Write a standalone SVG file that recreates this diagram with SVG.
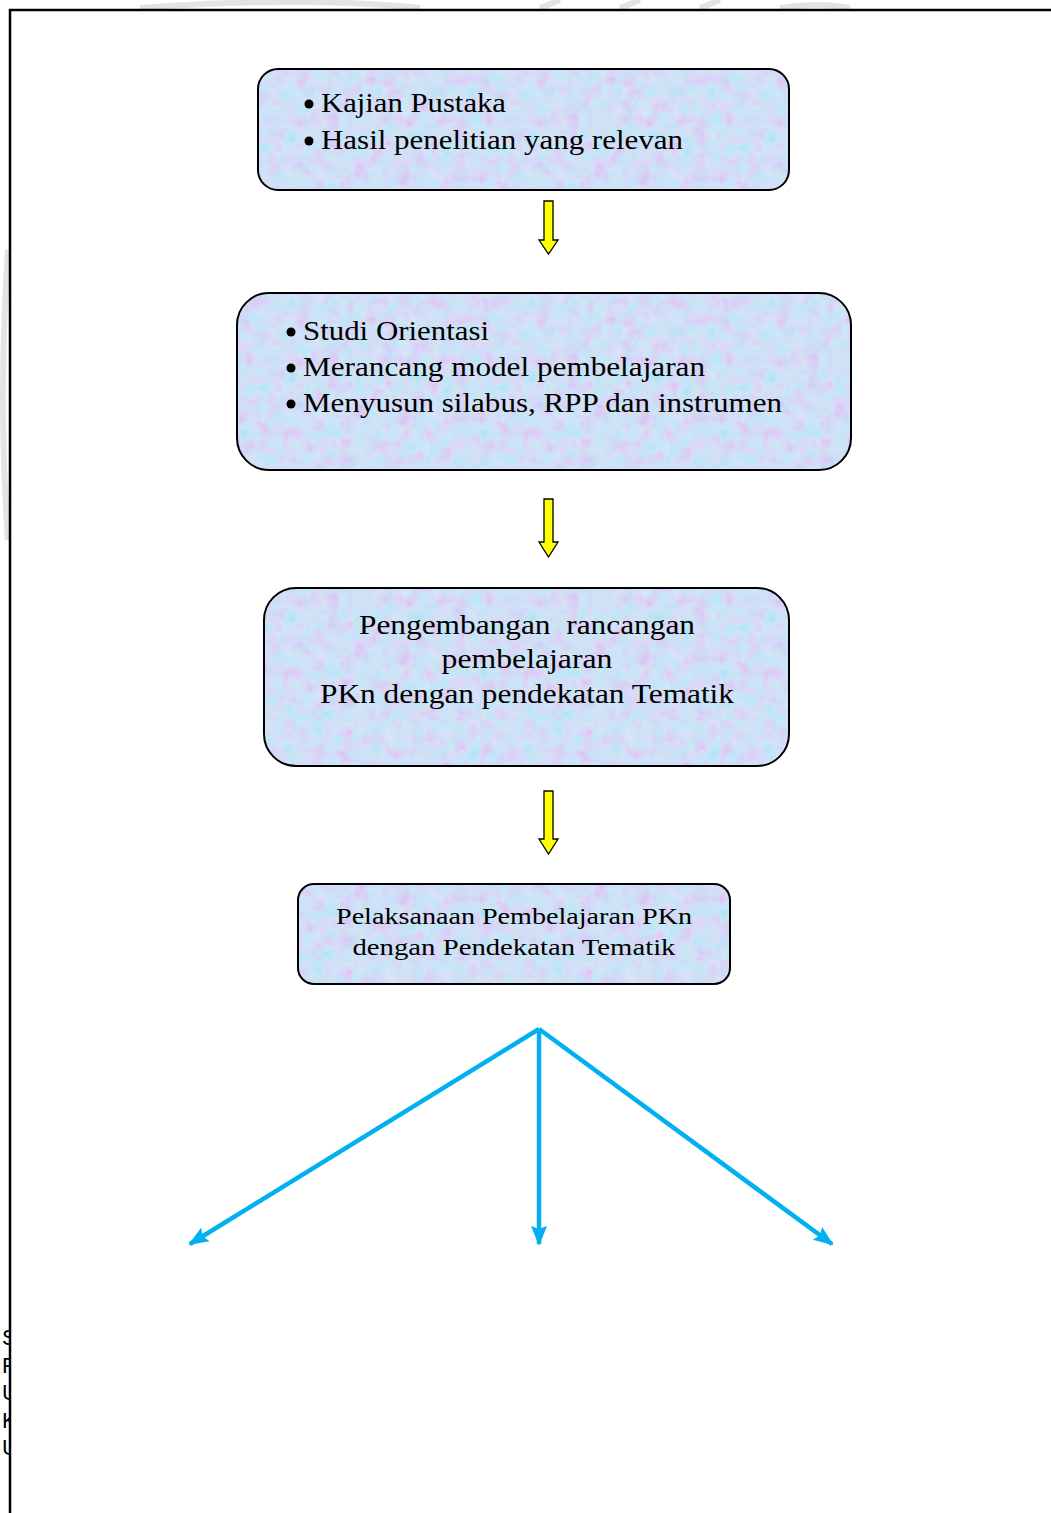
<svg xmlns="http://www.w3.org/2000/svg" width="1051" height="1513" viewBox="0 0 1051 1513">
<style>
.box{stroke:#000;stroke-width:2;fill:url(#tex)}
.t{font-family:"Liberation Serif","DejaVu Serif",serif;fill:#000}
.t1{font-size:27.5px}
.t4{font-size:24px}
.side{font-family:"Liberation Sans","DejaVu Sans",sans-serif;font-size:22px;fill:#000}
.ya{fill:#ffff00;stroke:#000;stroke-width:1.3;stroke-linejoin:miter}
.ba{stroke:#00b0f0;stroke-width:4.5;fill:none}
.wm{fill:none;stroke:#e3e3e3;stroke-width:6}
</style>
<defs>
<filter id="noise" x="0" y="0" width="100%" height="100%">
<feTurbulence type="fractalNoise" baseFrequency="0.07" numOctaves="3" seed="7" result="n"/>
<feColorMatrix in="n" type="matrix" values="1.1 -0.6 0 0 0.55  -0.6 1.1 0 0 0.62  0 0 0 0 0.95  0 0 0 0 1"/>
</filter>
<pattern id="tex" patternUnits="userSpaceOnUse" width="240" height="240">
<rect width="240" height="240" fill="#c2d3f4"/>
<rect width="240" height="240" filter="url(#noise)" opacity="0.4"/>
</pattern>
<marker id="bh" markerWidth="20" markerHeight="16" refX="18" refY="8" orient="auto" markerUnits="userSpaceOnUse" overflow="visible">
<path d="M0,0 L20,8 L0,16 L3,8 Z" fill="#00b0f0"/>
</marker>
<clipPath id="leftclip"><rect x="0" y="0" width="9" height="1513"/></clipPath>
</defs>
<rect width="1051" height="1513" fill="#fff"/>
<g id="watermark">
<path class="wm" d="M8,250 Q-2,400 8,540"/>
<path class="wm" d="M140,8 Q300,-4 420,8 M540,8 L560,0 M620,8 L640,0 M700,8 L720,0 M780,8 Q820,2 850,8"/>
</g>
<g id="frame">
<path d="M10,1513 L10,10 L1051,10" fill="none" stroke="#000" stroke-width="2.5"/>
</g>
<g id="sidetext" clip-path="url(#leftclip)">
<text class="side" x="2" y="1345">S</text>
<text class="side" x="2" y="1373">P</text>
<text class="side" x="2" y="1400">U</text>
<text class="side" x="2" y="1428">K</text>
<text class="side" x="2" y="1455">U</text>
</g>
<g id="node1">
<rect class="box" x="258" y="69" width="531" height="121" rx="20"/>
<circle cx="309" cy="104" r="4.5"/>
<circle cx="309" cy="141" r="4.5"/>
<text class="t t1" x="321" y="112" textLength="185" lengthAdjust="spacingAndGlyphs">Kajian Pustaka</text>
<text class="t t1" x="321" y="149" textLength="362" lengthAdjust="spacingAndGlyphs">Hasil penelitian yang relevan</text>
</g>
<g id="node2">
<rect class="box" x="237" y="293" width="614" height="177" rx="32"/>
<circle cx="291" cy="332" r="4.5"/>
<circle cx="291" cy="368" r="4.5"/>
<circle cx="291" cy="404" r="4.5"/>
<text class="t t1" x="303" y="340" textLength="186" lengthAdjust="spacingAndGlyphs">Studi Orientasi</text>
<text class="t t1" x="303" y="376" textLength="402" lengthAdjust="spacingAndGlyphs">Merancang model pembelajaran</text>
<text class="t t1" x="303" y="412" textLength="479" lengthAdjust="spacingAndGlyphs">Menyusun silabus, RPP dan instrumen</text>
</g>
<g id="node3">
<rect class="box" x="264" y="588" width="525" height="178" rx="32"/>
<text class="t t1" x="527" y="634" text-anchor="middle" textLength="336" lengthAdjust="spacingAndGlyphs" xml:space="preserve">Pengembangan  rancangan</text>
<text class="t t1" x="527" y="668" text-anchor="middle" textLength="171" lengthAdjust="spacingAndGlyphs">pembelajaran</text>
<text class="t t1" x="527" y="703" text-anchor="middle" textLength="414" lengthAdjust="spacingAndGlyphs">PKn dengan pendekatan Tematik</text>
</g>
<g id="node4">
<rect class="box" x="298" y="884" width="432" height="100" rx="16"/>
<text class="t t4" x="514" y="924" text-anchor="middle" textLength="356" lengthAdjust="spacingAndGlyphs">Pelaksanaan Pembelajaran PKn</text>
<text class="t t4" x="514" y="955" text-anchor="middle" textLength="323" lengthAdjust="spacingAndGlyphs">dengan Pendekatan Tematik</text>
</g>
<g id="connectors">
<path class="ya" d="M544,201 L553,201 L553,240 L558,240 L548.5,254 L539,240 L544,240 Z"/>
<path class="ya" d="M544,499 L553,499 L553,542 L558,542 L548.5,557 L539,542 L544,542 Z"/>
<path class="ya" d="M544,791 L553,791 L553,839 L558,839 L548.5,854 L539,839 L544,839 Z"/>
<line class="ba" x1="539" y1="1029" x2="190" y2="1244" marker-end="url(#bh)"/>
<line class="ba" x1="539" y1="1029" x2="539" y2="1244" marker-end="url(#bh)"/>
<line class="ba" x1="539" y1="1029" x2="832" y2="1244" marker-end="url(#bh)"/>
</g>
</svg>
